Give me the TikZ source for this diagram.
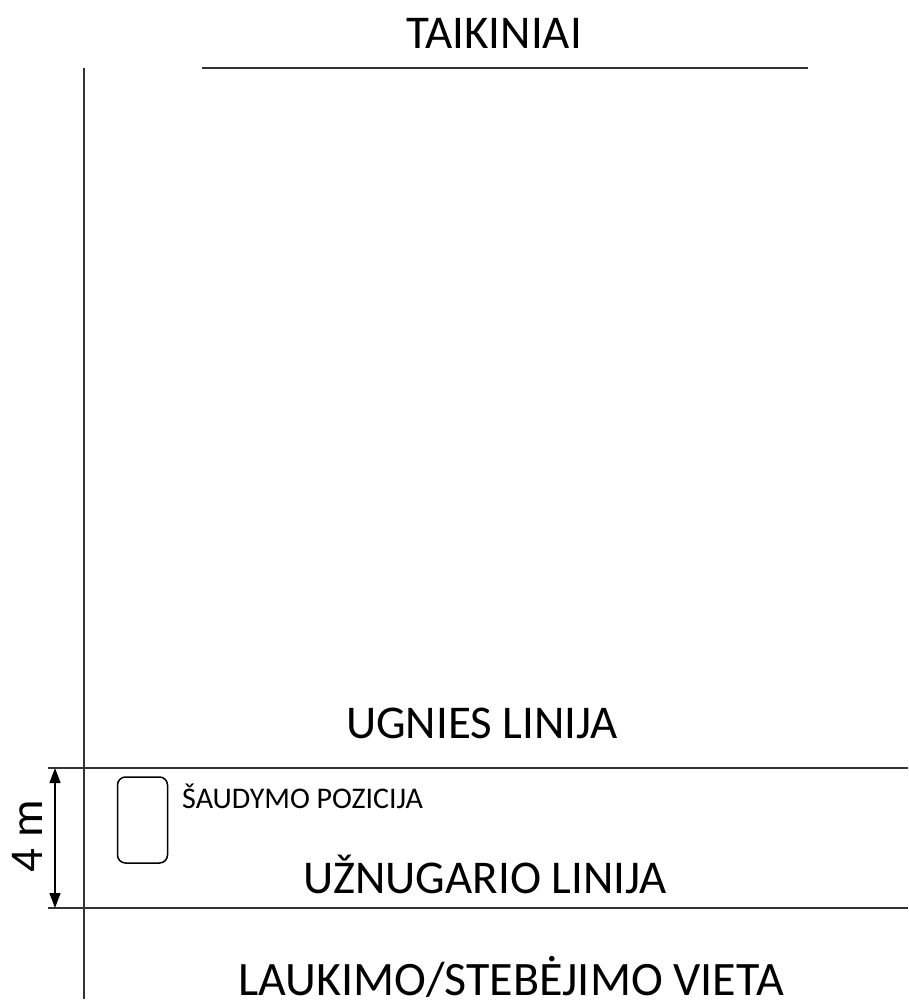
\documentclass[tikz,border=0pt]{standalone}
\usepackage{fontspec}
\setmainfont{Carlito}
\usetikzlibrary{arrows.meta}
\begin{document}
\begin{tikzpicture}[x=1pt,y=-1pt,
  line/.style={draw=black!80,line width=1.3pt},
  biglabel/.style={font=\fontsize{47}{47}\selectfont,anchor=base,inner sep=0pt},
  smalllabel/.style={font=\fontsize{30}{30}\selectfont,anchor=base west,inner sep=0pt},
  dim/.style={draw=black,line width=1.3pt,{Triangle[length=15pt,width=11pt]}-{Triangle[length=15pt,width=11pt]}}]
\useasboundingbox (0,0) rectangle (908,1008);
% lines
\coordinate (tl) at (202,68);
\coordinate (tr) at (808,68);
\coordinate (vt) at (84,68);
\coordinate (vb) at (84,999);
\coordinate (fl) at (48,768);
\coordinate (fr) at (908,768);
\coordinate (bl) at (48,908);
\coordinate (br) at (908,908);
\coordinate (at) at (55,768);
\coordinate (ab) at (55,908);
\draw[line] (tl) -- (tr);
\draw[line] (vt) -- (vb);
\draw[line] (fl) -- (fr);
\draw[line] (bl) -- (br);
\draw[dim] (at) -- (ab);
% labels
\node[biglabel] (taik) at (494,49) {TAIKINIAI};
\node[biglabel] (ugn) at (482,738) {UGNIES LINIJA};
\node[biglabel] (uzn) at (485,893) {UŽNUGARIO LINIJA};
\node[biglabel,font=\fontsize{48}{48}\selectfont] (lauk) at (511,995) {LAUKIMO/STEBĖJIMO VIETA};
\node[smalllabel] (saud) at (182,808) {ŠAUDYMO POZICIJA};
\node[font=\fontsize{47}{47}\selectfont,rotate=90,inner sep=0pt] (four) at (27,836) {4 m};
% firing position
\node[draw=black,line width=1.5pt,rounded corners=8pt,minimum width=50pt,minimum height=86pt,inner sep=0pt] (pos) at (142.5,820) {};
\end{tikzpicture}
\end{document}
